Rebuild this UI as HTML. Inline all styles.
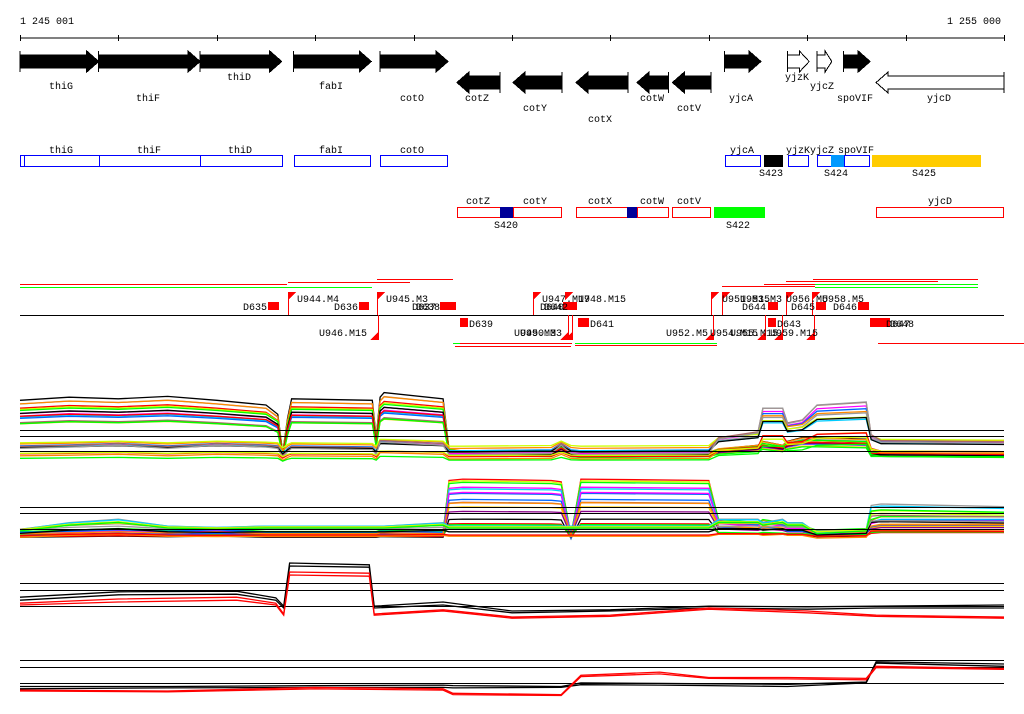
<!DOCTYPE html>
<html><head><meta charset="utf-8"><style>
html,body{margin:0;padding:0;background:#fff;width:1024px;height:714px;overflow:hidden}
svg{display:block}
text{font-family:"Liberation Mono","DejaVu Sans Mono",monospace;font-size:10px;fill:#000}
</style></head><body>
<svg id="chart" width="1024" height="714" viewBox="0 0 1024 714" xmlns="http://www.w3.org/2000/svg" shape-rendering="crispEdges">
<g>
<text x="20" y="24">1 245 001</text>
<text x="1001" y="24" text-anchor="end">1 255 000</text>
<line x1="20" y1="38" x2="1004" y2="38" stroke="#000"/>
<g id="ticks" stroke="#000"></g>
</g>
<g id="genes"></g>
<g>
<rect x="20.5" y="155.5" width="79" height="11" fill="none" stroke="#00f"/>
<line x1="24.5" y1="155" x2="24.5" y2="167" stroke="#00f"/>
<rect x="99.5" y="155.5" width="101" height="11" fill="none" stroke="#00f"/>
<rect x="200.5" y="155.5" width="82" height="11" fill="none" stroke="#00f"/>
<rect x="294.5" y="155.5" width="76" height="11" fill="none" stroke="#00f"/>
<rect x="380.5" y="155.5" width="67" height="11" fill="none" stroke="#00f"/>
<rect x="725.5" y="155.5" width="35" height="11" fill="none" stroke="#00f"/>
<rect x="764" y="155" width="19" height="12" fill="#000"/>
<rect x="788.5" y="155.5" width="20" height="11" fill="none" stroke="#00f"/>
<rect x="817.5" y="155.5" width="27" height="11" fill="none" stroke="#00f"/>
<rect x="831" y="155" width="13" height="12" fill="#09f"/>
<rect x="844.5" y="155.5" width="25" height="11" fill="none" stroke="#00f"/>
<rect x="872" y="155" width="109" height="12" fill="#fc0"/>
<text x="61" y="153" text-anchor="middle">thiG</text><text x="149" y="153" text-anchor="middle">thiF</text>
<text x="240" y="153" text-anchor="middle">thiD</text><text x="331" y="153" text-anchor="middle">fabI</text>
<text x="412" y="153" text-anchor="middle">cotO</text><text x="742" y="153" text-anchor="middle">yjcA</text>
<text x="798" y="153" text-anchor="middle">yjzK</text><text x="822" y="153" text-anchor="middle">yjcZ</text>
<text x="856" y="153" text-anchor="middle">spoVIF</text>
<text x="771" y="176" text-anchor="middle">S423</text><text x="836" y="176" text-anchor="middle">S424</text>
<text x="924" y="176" text-anchor="middle">S425</text>
</g>
<g>
<rect x="457.5" y="207.5" width="43" height="10" fill="none" stroke="#f00"/>
<rect x="500" y="207" width="13" height="11" fill="#009"/>
<rect x="513.5" y="207.5" width="48" height="10" fill="none" stroke="#f00"/>
<rect x="576.5" y="207.5" width="51" height="10" fill="none" stroke="#f00"/>
<rect x="627" y="207" width="10" height="11" fill="#009"/>
<rect x="637.5" y="207.5" width="31" height="10" fill="none" stroke="#f00"/>
<rect x="672.5" y="207.5" width="38" height="10" fill="none" stroke="#f00"/>
<rect x="714" y="207" width="51" height="11" fill="#0f0"/>
<rect x="876.5" y="207.5" width="127" height="10" fill="none" stroke="#f00"/>
<text x="478" y="204" text-anchor="middle">cotZ</text><text x="535" y="204" text-anchor="middle">cotY</text>
<text x="600" y="204" text-anchor="middle">cotX</text><text x="652" y="204" text-anchor="middle">cotW</text>
<text x="689" y="204" text-anchor="middle">cotV</text><text x="940" y="204" text-anchor="middle">yjcD</text>
<text x="506" y="228" text-anchor="middle">S420</text><text x="738" y="228" text-anchor="middle">S422</text>
</g>
<g id="features">
<line x1="20" y1="284.5" x2="287" y2="284.5" stroke="#f00"/>
<line x1="288" y1="282.5" x2="410" y2="282.5" stroke="#f00"/>
<line x1="20" y1="287.5" x2="372" y2="287.5" stroke="#0f0"/>
<line x1="377" y1="279.5" x2="453" y2="279.5" stroke="#f00"/>
<line x1="813" y1="279.5" x2="978" y2="279.5" stroke="#f00"/>
<line x1="786" y1="281.5" x2="938" y2="281.5" stroke="#f00"/>
<line x1="764" y1="284.5" x2="978" y2="284.5" stroke="#f00"/>
<line x1="815" y1="284.5" x2="978" y2="284.5" stroke="#0f0"/>
<line x1="815" y1="287.5" x2="978" y2="287.5" stroke="#0f0"/>
<line x1="722" y1="286.5" x2="815" y2="286.5" stroke="#f00"/>
<line x1="20" y1="315.5" x2="1004" y2="315.5" stroke="#000"/>
<line x1="453" y1="343.5" x2="572" y2="343.5" stroke="#f00"/>
<line x1="453" y1="343.5" x2="460" y2="343.5" stroke="#0f0"/>
<line x1="455" y1="346.5" x2="571" y2="346.5" stroke="#f00"/>
<line x1="575" y1="343.5" x2="630" y2="343.5" stroke="#0f0"/>
<line x1="575" y1="345.5" x2="717" y2="345.5" stroke="#f00"/>
<line x1="630" y1="343.5" x2="717" y2="343.5" stroke="#0f0"/>
<line x1="878" y1="343.5" x2="1024" y2="343.5" stroke="#f00"/>
<g fill="#f00">
<rect x="268" y="302" width="11" height="8"/><rect x="359" y="302" width="10" height="8"/>
<rect x="440" y="302" width="16" height="8"/><rect x="460" y="318" width="8" height="9"/>
<rect x="563" y="302" width="14" height="8"/><rect x="578" y="318" width="11" height="9"/>
<rect x="768" y="302" width="10" height="8"/><rect x="816" y="302" width="10" height="8"/>
<rect x="858" y="302" width="11" height="8"/><rect x="768" y="318" width="8" height="9"/>
<rect x="870" y="318" width="20" height="9"/>
<polygon points="288,292 296,292 288,300"/><polygon points="377,292 385,292 377,300"/>
<polygon points="533,292 541,292 533,300"/><polygon points="565,292 573,292 565,300"/>
<polygon points="711,292 719,292 711,300"/><polygon points="722,292 730,292 722,300"/>
<polygon points="786,292 794,292 786,300"/><polygon points="812,292 820,292 812,300"/>
<polygon points="370,340 378,340 378,332"/><polygon points="560,340 568,340 568,332"/>
<polygon points="564,340 572,340 572,332"/><polygon points="705,340 713,340 713,332"/>
<polygon points="757,340 765,340 765,332"/><polygon points="774,340 782,340 782,332"/>
<polygon points="806,340 814,340 814,332"/>
</g>
<g stroke="#f00" fill="none">
<line x1="288.5" y1="292" x2="288.5" y2="315"/><line x1="377.5" y1="292" x2="377.5" y2="315"/>
<line x1="378.5" y1="315" x2="378.5" y2="340"/><line x1="533.5" y1="292" x2="533.5" y2="315"/>
<line x1="568.5" y1="315" x2="568.5" y2="340"/><line x1="572.5" y1="315" x2="572.5" y2="340"/>
<line x1="713.5" y1="315" x2="713.5" y2="340"/><line x1="765.5" y1="315" x2="765.5" y2="340"/>
<line x1="782.5" y1="315" x2="782.5" y2="340"/><line x1="814.5" y1="315" x2="814.5" y2="340"/>
<line x1="722.5" y1="292" x2="722.5" y2="315"/><line x1="786.5" y1="292" x2="786.5" y2="315"/>
<line x1="812.5" y1="292" x2="812.5" y2="315"/><line x1="711.5" y1="292" x2="711.5" y2="315"/>
</g>
<text x="267" y="310" text-anchor="end">D635</text><text x="297" y="302">U944.M4</text>
<text x="358" y="310" text-anchor="end">D636</text><text x="386" y="302">U945.M3</text>
<text x="412" y="310">D637</text><text x="416" y="310">D638</text>
<text x="469" y="327">D639</text><text x="367" y="336" text-anchor="end">U946.M15</text>
<text x="542" y="302">U947.M17</text><text x="578" y="302">U948.M15</text>
<text x="540" y="310">D640</text><text x="544" y="310">D642</text>
<text x="590" y="327">D641</text><text x="514" y="336">U949.M3</text><text x="520" y="336">U950.M3</text>
<text x="722" y="302">U951.M15</text><text x="740" y="302">U953.M3</text>
<text x="766" y="310" text-anchor="end">D644</text><text x="786" y="302">U956.M5</text>
<text x="822" y="302">U958.M5</text><text x="815" y="310" text-anchor="end">D645</text>
<text x="857" y="310" text-anchor="end">D646</text><text x="777" y="327">D643</text>
<text x="886" y="327">D647</text><text x="890" y="327">D648</text>
<text x="708" y="336" text-anchor="end">U952.M5</text><text x="710" y="336">U954.M15</text>
<text x="730" y="336">U955.M15</text><text x="770" y="336">U959.M15</text>
</g>
<g id="panel1"></g>
<g id="panel2"></g>
<g id="panel3"></g>
<g id="panel4"></g>
</svg>
<script>
const NS="http://www.w3.org/2000/svg";
// gene data (kb offsets from 1 245 001)
const geneNames=["thiG","thiF","thiD","fabI","cotO","cotZ","cotY","cotX","cotW","cotV","yjcA","yjzK","yjcZ","spoVIF","yjcD"];
const geneStart=[0,0.80,1.83,2.78,3.66,4.44,5.01,5.65,6.27,6.63,7.16,7.80,8.10,8.37,8.70];
const geneEnd=[0.80,1.83,2.66,3.57,4.35,4.88,5.51,6.18,6.59,7.02,7.53,8.02,8.25,8.64,10];
const geneStrand=[1,1,1,1,1,-1,-1,-1,-1,-1,1,1,1,1,-1];
const geneFilled=[1,1,1,1,1,1,1,1,1,1,1,0,0,1,0];
const geneLabelY=[89,101,80,89,101,101,111,122,101,111,101,80,89,101,101];
const geneLabelX=[61,148,239,331,412,477,535,600,652,689,741,797,822,855,939];
const tickKb=[0,1,2,3,4,5,6,7,8,9,10];
// expression data
const POS=[0,0.5,1.0,1.5,2.0,2.5,2.62,2.67,2.72,2.76,3.58,3.62,3.66,3.7,4.3,4.36,4.5,5.4,5.5,5.6,5.7,7.0,7.1,7.5,7.55,7.75,7.8,7.95,8.1,8.6,8.65,8.75,10];
const SHAPE_A=[0.78,0.82,0.8,0.83,0.78,0.72,0.6,0.1,0.55,0.8,0.78,0.3,0.82,0.88,0.8,0.15,0.12,0.1,0.2,0.1,0.08,0.1,0.15,0.2,0.25,0.2,0.25,0.3,0.3,0.28,0.1,0.1,0.08];
const SHAPE_B=[0.2,0.22,0.25,0.2,0.25,0.22,0.2,0.05,0.15,0.2,0.18,0.1,0.3,0.3,0.25,0.1,0.1,0.12,0.25,0.12,0.1,0.12,0.35,0.45,0.85,0.85,0.6,0.65,0.9,0.95,0.4,0.3,0.28];
const SHAPE_C=[0.1,0.12,0.15,0.12,0.15,0.1,0.1,0.1,0.1,0.1,0.1,0.1,0.12,0.12,0.1,0.9,0.92,0.9,0.88,0.05,0.92,0.9,0.3,0.25,0.3,0.25,0.2,0.2,0.12,0.15,0.3,0.35,0.35];
const SHAPE_D=[0.15,0.25,0.3,0.2,0.18,0.2,0.2,0.2,0.2,0.2,0.2,0.2,0.2,0.2,0.25,0.2,0.2,0.2,0.2,0.2,0.2,0.2,0.3,0.3,0.25,0.3,0.25,0.25,0.1,0.15,0.5,0.52,0.48];
const P1_SHAPE=["A","A","A","A","A","A","A","A","A","A","A","A","A","A","A","B","B","B","B","B","B","B","B","B","B","B","B","B"];
const P1_BASE=[0.02,0.0,0.04,0.01,0.03,0.05,0.0,0.02,0.04,0.01,0.03,0.0,0.02,0.05,0.01,0.05,0.1,0.15,0.08,0.12,0.2,0.06,0.1,0.02,0.0,0.04,0.07,0.0];
const P1_AMP=[1.25,1.2,1.15,1.1,1.05,1.0,0.95,0.9,0.85,0.8,0.75,1.0,0.98,0.88,0.78,0.9,0.8,0.7,0.75,0.6,0.55,0.95,0.65,1.0,0.5,0.45,0.35,0.3];
const P2_SHAPE=["C","C","C","C","C","C","C","C","C","C","C","C","C","C","C","D","D","D","D","D","D","D","D","D","D"];
const P2_BASE=[0.0,0.02,0.04,0.01,0.03,0.05,0.0,0.02,0.04,0.01,0.03,0.06,0.02,0.0,0.04,0.0,0.02,0.05,0.08,0.03,0.1,0.0,0.04,0.06,0.01];
const P2_AMP=[1.05,1.0,0.95,0.9,0.85,0.75,0.65,0.55,0.45,0.35,0.25,0.2,0.8,0.7,0.6,1.1,1.0,0.8,0.6,0.5,0.4,0.3,0.2,0.7,0.9];
const COLORS=["#000","#999","#f80","#f00","#cf0","#0f0","#f0f","#0cf","#06f","#a66","#fc0","#808","#000","#f00","#0f0","#f0f","#06f","#f80","#999","#0cf","#cf0","#a66"];
const POS3=[0,1.0,2.2,2.6,2.68,2.74,3.55,3.6,4.3,5.0,6.0,7.0,8.0,8.7,10];
const P3_BLACK1=[0.38,0.47,0.48,0.37,0.23,0.95,0.92,0.23,0.3,0.15,0.17,0.23,0.22,0.23,0.25];
const P3_BLACK2=[0.33,0.42,0.43,0.33,0.2,0.9,0.88,0.2,0.25,0.12,0.15,0.2,0.18,0.2,0.2];
const P3_RED1=[0.28,0.35,0.38,0.28,0.1,0.8,0.78,0.1,0.17,0.05,0.08,0.2,0.15,0.08,0.05];
const P3_RED2=[0.25,0.3,0.33,0.25,0.08,0.75,0.73,0.08,0.15,0.03,0.06,0.18,0.12,0.06,0.03];
const POS4=[0,1.5,3.0,4.3,4.4,5.5,5.7,6.5,7.0,7.8,8.6,8.7,10];
const P4_BLACK1=[0.3,0.3,0.32,0.33,0.32,0.3,0.38,0.37,0.36,0.35,0.4,0.85,0.8];
const P4_BLACK2=[0.25,0.27,0.28,0.28,0.27,0.28,0.34,0.33,0.32,0.3,0.38,0.82,0.75];
const P4_RED1=[0.22,0.2,0.28,0.25,0.15,0.12,0.55,0.62,0.5,0.5,0.48,0.75,0.7];
const P4_RED2=[0.2,0.18,0.25,0.22,0.12,0.1,0.52,0.58,0.48,0.47,0.45,0.72,0.68];

const X=kb=>20+kb*98.4;
function el(tag,attrs,parent){const e=document.createElementNS(NS,tag);for(const k in attrs)e.setAttribute(k,attrs[k]);parent.appendChild(e);return e;}

const tg=document.getElementById('ticks');
tickKb.forEach(k=>{const t=el('line',{x1:Math.round(X(k))+0.5,x2:Math.round(X(k))+0.5,y1:35,y2:41},tg);

});

const gg=document.getElementById('genes');
geneNames.forEach((n,i)=>{
  const x1=X(geneStart[i]),x2=X(geneEnd[i]);const fwd=geneStrand[i]>0;
  const top=fwd?51:72, h=21, b1=top+4, b2=top+17, hl=Math.min(12,(x2-x1)*0.45);
  let pts;
  if(fwd) pts=[[x1,b1],[x2-hl,b1],[x2-hl,top],[x2,top+h/2],[x2-hl,top+h],[x2-hl,b2],[x1,b2]];
  else pts=[[x2,b1],[x1+hl,b1],[x1+hl,top],[x1,top+h/2],[x1+hl,top+h],[x1+hl,b2],[x2,b2]];
  const p=el('polygon',{points:pts.map(q=>q.join(',')).join(' '),fill:geneFilled[i]?'#000':'#fff',stroke:'#000','stroke-width':1},gg);
  
  
  const sx=fwd?x1:x2;
  el('line',{x1:sx,x2:sx,y1:top,y2:top+h,stroke:'#000'},gg);
  const t=el('text',{x:geneLabelX[i],y:geneLabelY[i],'text-anchor':'middle'},gg);t.textContent=n;
  
  
});

function refLines(g,ys){ys.forEach(y=>{const l=el('line',{x1:20,x2:1004,y1:y+0.5,y2:y+0.5,stroke:'#000'},g);

});}
function poly(g,pos,vals,yf,color,name){
  const pts=pos.map((p,j)=>X(p).toFixed(1)+','+yf(vals[j]).toFixed(1)).join(' ');
  const l=el('polyline',{points:pts,fill:'none',stroke:color,'stroke-width':1.3,'shape-rendering':'auto'},g);
  
  
}
const shapes={A:SHAPE_A,B:SHAPE_B,C:SHAPE_C,D:SHAPE_D};
const g1=document.getElementById('panel1'),Y1=v=>462-v*62;
P1_BASE.forEach((b,i)=>{const s=shapes[P1_SHAPE[i]];poly(g1,POS,s.map(v=>b+P1_AMP[i]*v),Y1,COLORS[i%COLORS.length],'panel1-series');});
refLines(g1,[430,436,451]);
const g2=document.getElementById('panel2'),Y2=v=>540-v*63;
P2_BASE.forEach((b,i)=>{const s=shapes[P2_SHAPE[i]];poly(g2,POS,s.map(v=>b+P2_AMP[i]*v),Y2,COLORS[(i+3)%COLORS.length],'panel2-series');});
refLines(g2,[507,513,529]);
const g3=document.getElementById('panel3'),Y3=v=>620-v*60;
refLines(g3,[583,590,606]);
poly(g3,POS3,P3_BLACK1,Y3,'#000','panel3-black-1');poly(g3,POS3,P3_BLACK2,Y3,'#000','panel3-black-2');
poly(g3,POS3,P3_RED1,Y3,'#f00','panel3-red-1');poly(g3,POS3,P3_RED2,Y3,'#f00','panel3-red-2');
const g4=document.getElementById('panel4'),Y4=v=>700-v*45;
refLines(g4,[660,667,683]);
poly(g4,POS4,P4_BLACK1,Y4,'#000','panel4-black-1');poly(g4,POS4,P4_BLACK2,Y4,'#000','panel4-black-2');
poly(g4,POS4,P4_RED1,Y4,'#f00','panel4-red-1');poly(g4,POS4,P4_RED2,Y4,'#f00','panel4-red-2');
</script>
</body></html>
